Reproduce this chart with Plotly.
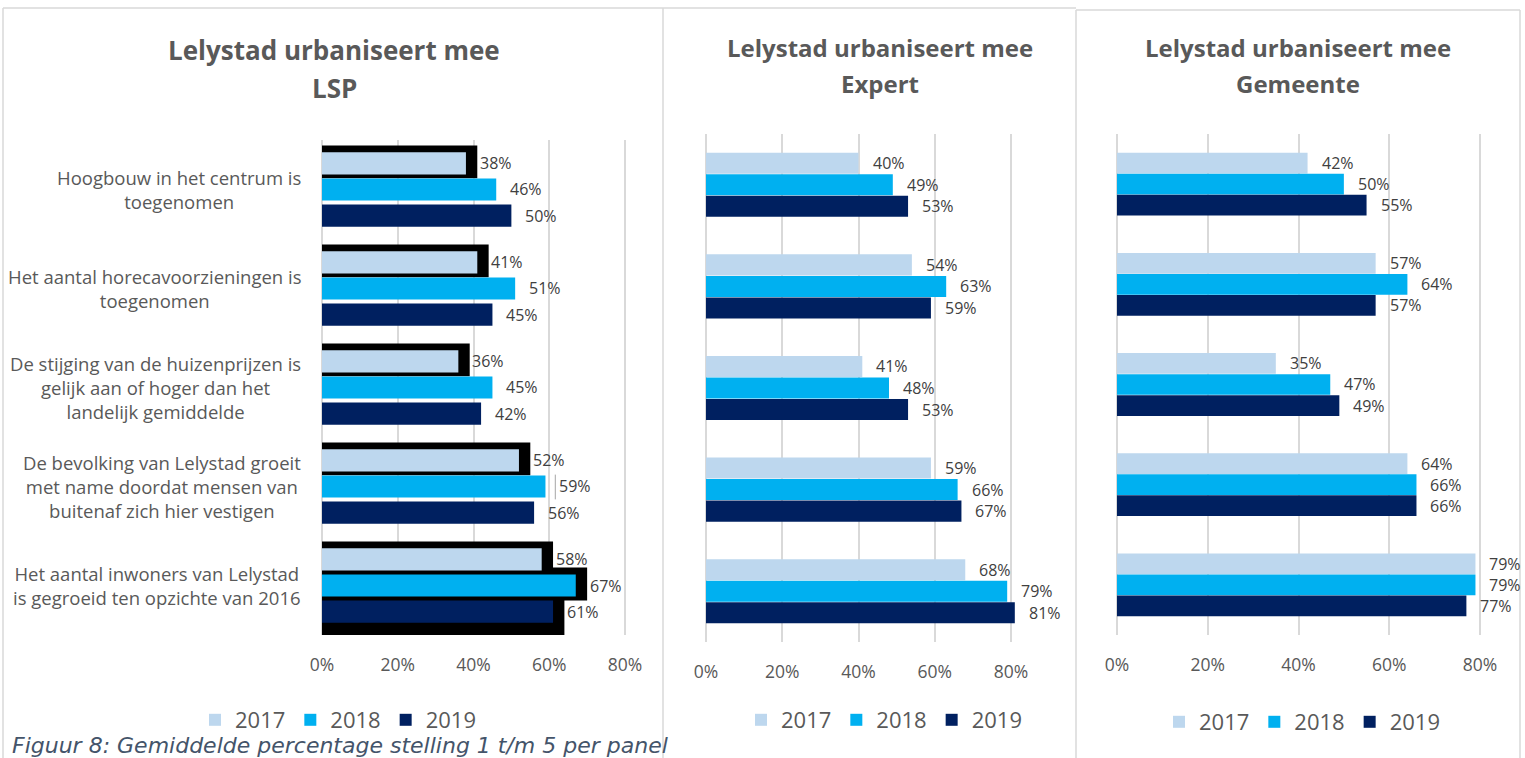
import plotly.graph_objects as go

# ---------------- data ----------------
categories = [
    "Hoogbouw in het centrum is<br>toegenomen",
    "Het aantal horecavoorzieningen is<br>toegenomen",
    "De stijging van de huizenprijzen is<br>gelijk aan of hoger dan het<br>landelijk gemiddelde",
    "De bevolking van Lelystad groeit<br>met name doordat mensen van<br>buitenaf zich hier vestigen",
    "Het aantal inwoners van Lelystad<br>is gegroeid ten opzichte van 2016",
]
years = ["2017", "2018", "2019"]

lsp_2017 = [38, 41, 36, 52, 58]
lsp_2018 = [46, 51, 45, 59, 67]
lsp_2019 = [50, 45, 42, 56, 61]

expert_2017 = [40, 54, 41, 59, 68]
expert_2018 = [49, 63, 48, 66, 79]
expert_2019 = [53, 59, 53, 67, 81]

gemeente_2017 = [42, 57, 35, 64, 79]
gemeente_2018 = [50, 64, 47, 66, 79]
gemeente_2019 = [55, 57, 49, 66, 77]

panel_titles = [
    ("Lelystad urbaniseert mee", "LSP"),
    ("Lelystad urbaniseert mee", "Expert"),
    ("Lelystad urbaniseert mee", "Gemeente"),
]
x_ticks = [0, 20, 40, 60, 80]
x_tick_labels = ["0%", "20%", "40%", "60%", "80%"]
caption = "Figuur 8: Gemiddelde percentage stelling 1 t/m 5 per panel"

# ---------------- styling ----------------
W, H = 1525, 758
colors = ["#BDD7EE", "#00B0F0", "#002060"]
GRID = "#D9D9D9"
TXT = "#595959"
LBL = "#404040"
FONT = "Open Sans"
X_MAX_TICK = 80
X_MAX = 86  # room for labels beyond the last gridline


def px_x(p):
    return p / W


def px_y(p):
    return 1 - p / H


panels = [
    dict(series=[lsp_2017, lsp_2018, lsp_2019], xdom=(322, 625), ydom=(140, 635),
         pitch=0.264, barh=0.223, tx=334, ty=(50, 88), tsize=26, lx=338, ly=720, ax=""),
    dict(series=[expert_2017, expert_2018, expert_2019], xdom=(706, 1011), ydom=(134, 642),
         pitch=0.212, barh=0.207, tx=880, ty=(47, 83), tsize=24, lx=884, ly=720, ax="2"),
    dict(series=[gemeente_2017, gemeente_2018, gemeente_2019], xdom=(1117, 1480), ydom=(134, 635),
         pitch=0.21, barh=0.207, tx=1298, ty=(47, 83), tsize=24, lx=1302, ly=722, ax="3"),
]

fig = go.Figure()
annotations = []
shapes = []
layout = {}

ncat = len(categories)
for p, pan in enumerate(panels):
    ax = pan["ax"]
    xref = "x" + ax
    yref = "y" + ax
    leg = "legend" + ax
    x0p, x80p = pan["xdom"]
    x_end = x0p + (x80p - x0p) * X_MAX / X_MAX_TICK
    for j, (yr, vals) in enumerate(zip(years, pan["series"])):
        off = (j - 1) * pan["pitch"]
        ypos = [k + off for k in range(ncat)]
        fig.add_trace(go.Bar(
            orientation="h", x=vals, y=ypos, base=0, width=pan["barh"],
            marker=dict(color=colors[j], line=dict(width=0)),
            name=yr, xaxis=xref, yaxis=yref, legend=leg, showlegend=True,
            hoverinfo="skip",
        ))
        for v, yy in zip(vals, ypos):
            annotations.append(dict(
                x=v, y=yy, xref=xref, yref=yref, text=f"{v}%", showarrow=False,
                xanchor="left", yanchor="middle", xshift=12,
                font=dict(family=FONT, size=16, color=LBL),
            ))
    layout["xaxis" + ax] = dict(
        domain=[px_x(x0p), px_x(x_end)], range=[0, X_MAX],
        tickvals=x_ticks, ticktext=x_tick_labels, showgrid=True, gridcolor=GRID, gridwidth=2,
        zeroline=True, zerolinecolor=GRID, zerolinewidth=2, showline=False,
        ticks="outside", ticklen=14, tickcolor="rgba(0,0,0,0)", automargin=False,
        tickfont=dict(family=FONT, size=17.5, color=TXT), anchor=yref, fixedrange=True,
    )
    layout["yaxis" + ax] = dict(
        domain=[px_y(pan["ydom"][1]), px_y(pan["ydom"][0])], range=[ncat - 0.5, -0.5],
        showgrid=False, zeroline=False, showticklabels=False, anchor=xref, fixedrange=True,
        automargin=False,
    )
    layout[leg] = dict(
        orientation="h", x=px_x(pan["lx"]), xanchor="center", y=px_y(pan["ly"]), yanchor="middle",
        font=dict(family=FONT, size=22, color=TXT), bgcolor="rgba(0,0,0,0)",
        itemclick=False, itemdoubleclick=False,
    )
    for line, ty in zip(panel_titles[p], pan["ty"]):
        annotations.append(dict(
            x=px_x(pan["tx"]), y=px_y(ty), xref="paper", yref="paper", text=f"<b>{line}</b>",
            showarrow=False, xanchor="center", yanchor="middle",
            font=dict(family=FONT, size=pan["tsize"], color=TXT),
        ))

# category labels (left of first panel)
for k, cat in enumerate(categories):
    annotations.append(dict(
        x=px_x(303), y=k, xref="paper", yref="y", text=cat, showarrow=False,
        xanchor="right", yanchor="middle", align="center",
        font=dict(family=FONT, size=18.5, color=TXT),
    ))

# black shadow artefacts behind LSP bars (derived from the bar values)
pan = panels[0]
pad_x = 3.0
top_ext, bot_ext = 0.07, 0.04
shadowed = [(k, 0) for k in range(ncat)] + [(4, 1), (4, 2)]
for k, j in shadowed:
    v = pan["series"][j][k]
    yc = k + (j - 1) * pan["pitch"]
    y0 = yc - pan["barh"] / 2 - top_ext
    y1 = yc + pan["barh"] / 2 + (0.15 if (k, j) == (4, 2) else bot_ext)
    shapes.append(dict(type="rect", xref="x", yref="y", x0=0, x1=v + pad_x, y0=y0, y1=y1,
                       fillcolor="black", line=dict(width=0), layer="between"))

# small leader line next to the 59% label (LSP, 2018, 4th statement)
v_lead = lsp_2018[3]
yc_lead = 3
shapes.append(dict(type="line", xref="x", yref="y", x0=v_lead + 2.6, x1=v_lead + 2.6,
                   y0=yc_lead - 0.12, y1=yc_lead + 0.13, line=dict(color="#A6A6A6", width=1)))

# panel borders
bc = dict(color=GRID, width=1.5)
shapes += [
    dict(type="line", xref="paper", yref="paper", x0=px_x(3), x1=px_x(3), y0=0, y1=px_y(8), line=bc),
    dict(type="line", xref="paper", yref="paper", x0=px_x(3), x1=px_x(1076), y0=px_y(8), y1=px_y(8), line=bc),
    dict(type="line", xref="paper", yref="paper", x0=px_x(663), x1=px_x(663), y0=0, y1=px_y(8), line=bc),
    dict(type="line", xref="paper", yref="paper", x0=px_x(1076), x1=px_x(1076), y0=0, y1=px_y(10), line=bc),
    dict(type="line", xref="paper", yref="paper", x0=px_x(1076), x1=px_x(1520), y0=px_y(10), y1=px_y(10), line=bc),
    dict(type="line", xref="paper", yref="paper", x0=px_x(1520), x1=px_x(1520), y0=0, y1=px_y(10), line=bc),
]

annotations.append(dict(
    x=px_x(10), y=px_y(745), xref="paper", yref="paper", text=f"<i>{caption}</i>",
    showarrow=False, xanchor="left", yanchor="middle",
    font=dict(family="DejaVu Sans", size=22, color="#44546A"),
))

fig.update_layout(
    width=W, height=H, margin=dict(l=0, r=0, t=0, b=0, pad=0, autoexpand=False),
    paper_bgcolor="white", plot_bgcolor="white", barmode="overlay",
    annotations=annotations, shapes=shapes, **layout,
)

fig.write_html("out.html", config={"displayModeBar": False, "responsive": False},
               post_script="document.body.style.margin='0';document.body.style.overflow='hidden';")
